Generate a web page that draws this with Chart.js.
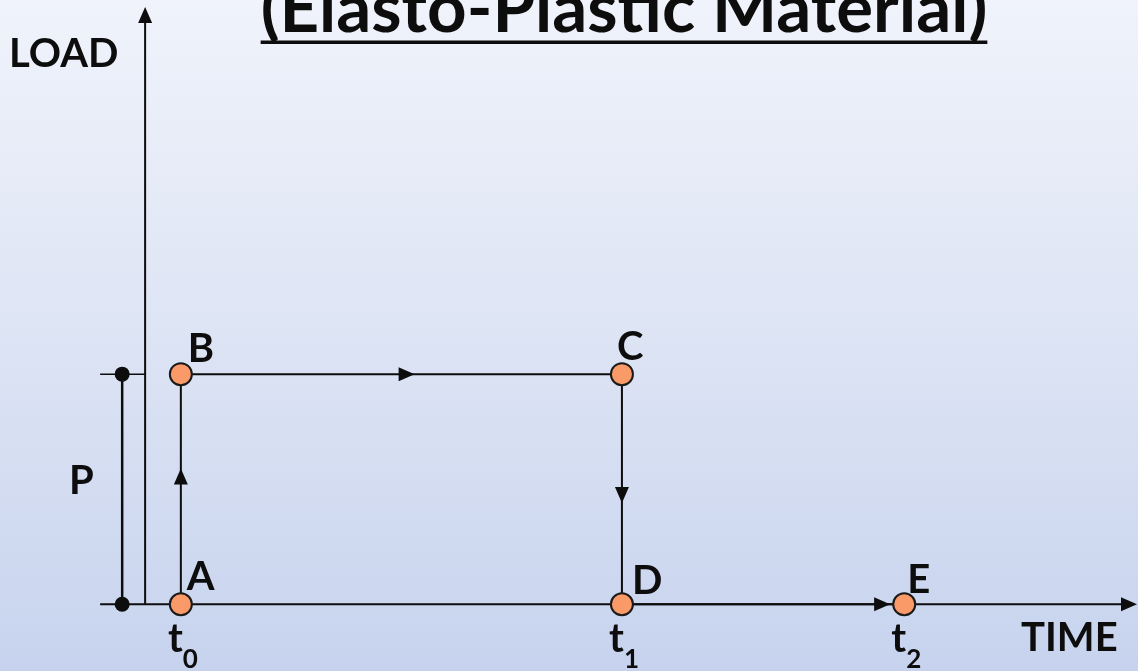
<!DOCTYPE html>
<html>
<head>
<meta charset="utf-8">
<script src="https://cdn.jsdelivr.net/npm/chart.js@4.4.1/dist/chart.umd.min.js"></script>
<style>
  html, body { margin: 0; padding: 0; background: #dfe6f5; }
  #wrap { width: 1138px; height: 671px; }
</style>
</head>
<body>
<div id="wrap"><canvas id="chart" width="1138" height="671"></canvas></div>
<script>
// state points of the load history
const pointLabels = ["A", "B", "C", "D", "E"];
const pointTimes = [0, 0, 1, 1, 1.64];
const pointLoads = [0, 1, 1, 0, 0];

// time marks on the horizontal axis
const timeTickNames = ["t", "t", "t"];
const timeTickSubs = ["0", "1", "2"];
const timeTickValues = [0, 1, 1.64];

const loadName = "P";
const loadValue = 1;

const titleText = "(Elasto-Plastic Material)";
const yAxisTitle = "LOAD";
const xAxisTitle = "TIME";

const FONT = "Lato, 'Open Sans', sans-serif";
const INK = "#0d0d0d";

function arrowHead(ctx, x, y, angle, len, half) {
  ctx.save();
  ctx.translate(x, y);
  ctx.rotate(angle);
  ctx.beginPath();
  ctx.moveTo(0, 0);
  ctx.lineTo(-len, -half);
  ctx.lineTo(-len, half);
  ctx.closePath();
  ctx.fillStyle = INK;
  ctx.fill();
  ctx.restore();
}

const background = {
  id: "background",
  beforeDraw(chart) {
    const { ctx, width, height } = chart;
    const g = ctx.createLinearGradient(0, 0, 0, height);
    g.addColorStop(0, "#f0f3fb");
    g.addColorStop(0.5, "#dde4f4");
    g.addColorStop(1, "#c7d3ee");
    ctx.save();
    ctx.fillStyle = g;
    ctx.fillRect(0, 0, width, height);
    ctx.restore();
  },
};

// axes with arrows and the P dimension, drawn under the path
const axesPlugin = {
  id: "axesPlugin",
  beforeDatasetsDraw(chart) {
    const { ctx, scales: { x, y }, chartArea } = chart;
    const axisX = x.getPixelForValue(-0.081);
    const zeroY = y.getPixelForValue(0);
    const loadY = y.getPixelForValue(loadValue);
    const dimX = x.getPixelForValue(-0.133);
    const tickL = x.getPixelForValue(-0.183);

    ctx.save();
    ctx.strokeStyle = INK;
    ctx.lineWidth = 2;

    // vertical LOAD axis
    const topY = chartArea.top + 7;
    ctx.beginPath();
    ctx.moveTo(axisX, zeroY);
    ctx.lineTo(axisX, topY + 12);
    ctx.stroke();
    arrowHead(ctx, axisX, topY, -Math.PI / 2, 16, 7);

    // horizontal TIME axis
    const rightX = chartArea.right - 1;
    ctx.beginPath();
    ctx.moveTo(tickL, zeroY);
    ctx.lineTo(rightX - 12, zeroY);
    ctx.stroke();
    arrowHead(ctx, rightX, zeroY, 0, 16, 7);

    // P dimension
    ctx.lineWidth = 1.5;
    ctx.beginPath();
    ctx.moveTo(tickL, loadY);
    ctx.lineTo(axisX, loadY);
    ctx.stroke();
    ctx.lineWidth = 2.5;
    ctx.beginPath();
    ctx.moveTo(dimX, loadY);
    ctx.lineTo(dimX, zeroY);
    ctx.stroke();
    ctx.fillStyle = INK;
    [loadY, zeroY].forEach((py) => {
      ctx.beginPath();
      ctx.arc(dimX, py, 7.5, 0, Math.PI * 2);
      ctx.fill();
    });

    // arrows along the path
    const arrowAt = [0.59, 0.53, 0.56, 0.95];
    for (let i = 0; i < pointTimes.length - 1; i++) {
      const x0 = x.getPixelForValue(pointTimes[i]);
      const y0 = y.getPixelForValue(pointLoads[i]);
      const x1 = x.getPixelForValue(pointTimes[i + 1]);
      const y1 = y.getPixelForValue(pointLoads[i + 1]);
      const f = arrowAt[i];
      arrowHead(ctx, x0 + (x1 - x0) * f, y0 + (y1 - y0) * f, Math.atan2(y1 - y0, x1 - x0), 16, 7);
    }
    ctx.restore();
  },
  afterDatasetsDraw(chart) {
    const { ctx, scales: { x, y } } = chart;
    ctx.save();
    ctx.fillStyle = INK;
    ctx.textBaseline = "alphabetic";

    // title, cut at the top edge
    ctx.font = "bold 69px " + FONT;
    ctx.textAlign = "center";
    const cx = 624;
    ctx.fillText(titleText, cx, 32);
    const tw = ctx.measureText(titleText).width;
    ctx.fillRect(cx - tw / 2, 40.5, tw, 3.5);

    ctx.font = "bold 40px " + FONT;
    ctx.textAlign = "left";
    ctx.fillText(yAxisTitle, 9, 67);
    ctx.fillText(xAxisTitle, 1021, 651);

    const loadMid = (y.getPixelForValue(0) + y.getPixelForValue(loadValue)) / 2;
    ctx.fillText(loadName, 69, loadMid + 5);

    // point letters
    const offsets = [[6, -14], [7, -12], [-5, -14], [10, -10], [3, -11]];
    pointLabels.forEach((lbl, i) => {
      const px = x.getPixelForValue(pointTimes[i]);
      const py = y.getPixelForValue(pointLoads[i]);
      ctx.fillText(lbl, px + offsets[i][0], py + offsets[i][1]);
    });

    // time marks with subscripts
    timeTickValues.forEach((v, i) => {
      const px = x.getPixelForValue(v);
      ctx.font = "bold 40px " + FONT;
      ctx.textAlign = "right";
      ctx.fillText(timeTickNames[i], px + 2, 652);
      ctx.font = "bold 26px " + FONT;
      ctx.textAlign = "left";
      ctx.fillText(timeTickSubs[i], px + 2, 668);
    });
    ctx.restore();
  },
};

const chart = new Chart(document.getElementById("chart"), {
  type: "scatter",
  data: {
    datasets: [
      {
        label: "load path",
        data: pointTimes.map((t, i) => ({ x: t, y: pointLoads[i] })),
        showLine: true,
        borderColor: INK,
        borderWidth: 2,
        pointRadius: 11,
        pointBackgroundColor: "#f99a68",
        pointBorderColor: "#1a1a1a",
        pointBorderWidth: 2,
      },
    ],
  },
  options: {
    responsive: false,
    animation: false,
    devicePixelRatio: 1,
    layout: { padding: 0, autoPadding: false },
    scales: {
      x: { type: "linear", display: false, min: -0.41, max: 2.17 },
      y: { type: "linear", display: false, min: -0.29, max: 2.626 },
    },
    plugins: {
      legend: { display: false },
      tooltip: { enabled: false },
    },
  },
  plugins: [background, axesPlugin],
});
</script>
</body>
</html>
